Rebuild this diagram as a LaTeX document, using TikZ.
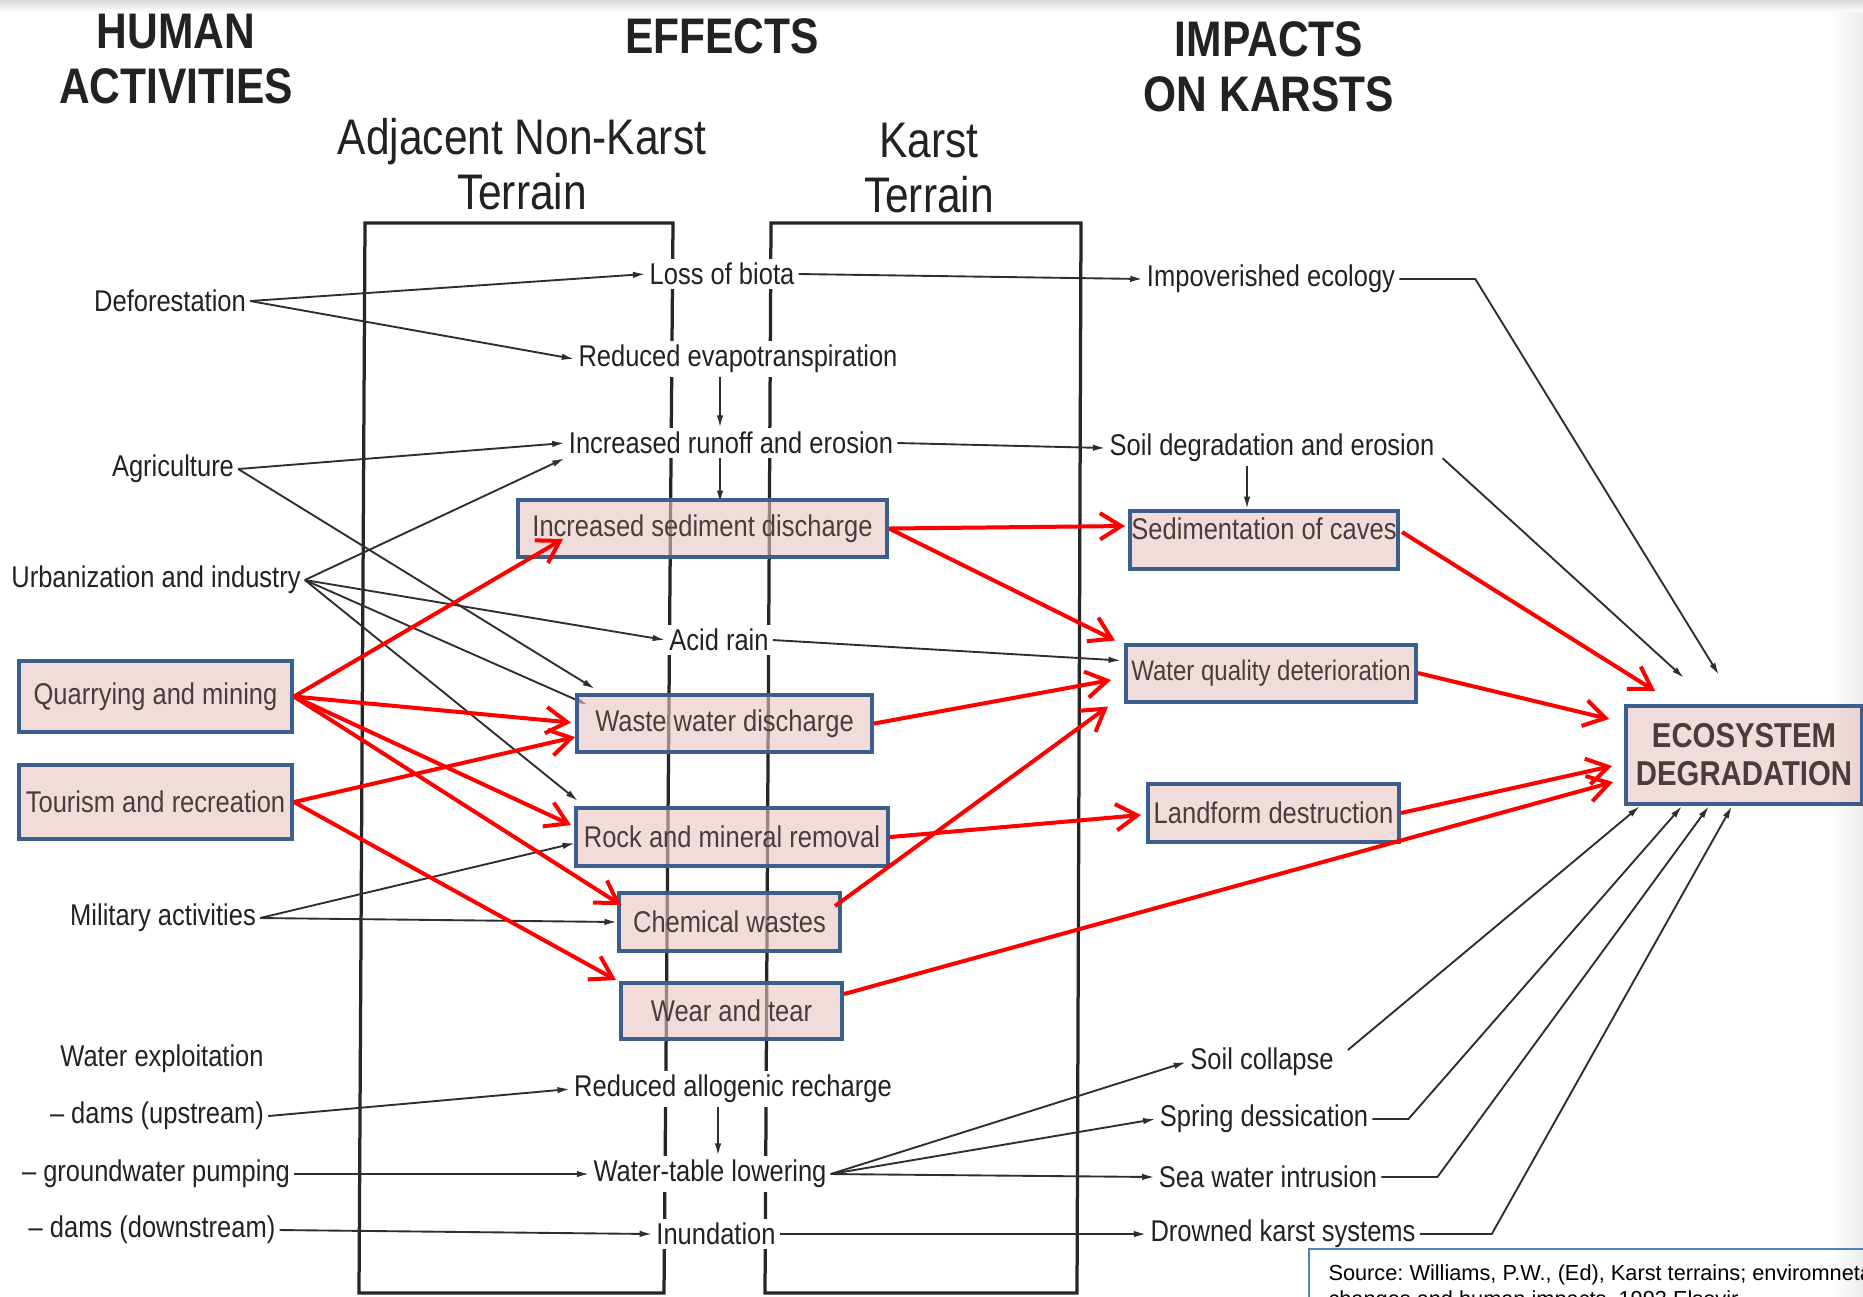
\documentclass[tikz,border=0pt]{standalone}
\usepackage{fontspec}
\setmainfont{Liberation Sans}[FakeStretch=0.85]
\newfontfamily\srcfont{Liberation Sans}
\usetikzlibrary{arrows.meta,calc}
\definecolor{boxpink}{HTML}{E9C5C3}
\definecolor{boxblue}{HTML}{3B5E8C}
\definecolor{srcblue}{HTML}{4F81BD}
\definecolor{ink}{HTML}{222222}
\definecolor{boxink}{HTML}{4A3C3C}
\definecolor{lineink}{HTML}{2E2E2E}
\pgfdeclarelayer{back}
\pgfdeclarelayer{front}
\pgfdeclarelayer{top}
\pgfsetlayers{back,main,front,top}
\begin{document}
\begin{tikzpicture}[x=0.4pt,y=-0.4pt,
  lbl/.style={font=\fontsize{12}{14}\selectfont, text=ink, fill=white, inner sep=1.5pt},
  pbox/.style={draw=boxblue, line width=1.6pt, fill=boxpink, fill opacity=0.6, text opacity=1, text=boxink, font=\fontsize{12}{14}\selectfont, inner sep=0pt},
  bsz/.style 2 args={minimum width=#1*0.4pt, minimum height=#2*0.4pt},
  ttl/.style={font=\bfseries\fontsize{20}{22}\selectfont, align=center, text=ink},
  hdr/.style={font=\fontsize{20}{22}\selectfont, align=center, text=ink},
  blk/.style={draw=lineink, line width=0.75pt, -{Latex[length=5pt,width=2.6pt]}},
  redarr/.style={draw=red, line width=1.6pt, line join=round, -{Straight Barb[length=8.5pt,width=10.5pt]}},
  frame/.style={draw=black!85, line width=1.3pt}
]
\useasboundingbox (0,0) rectangle (1863,1296);
\clip (0,0) rectangle (1863,1296);

% background and frames
\begin{pgfonlayer}{back}
\fill[white] (0,0) rectangle (1863,1296);
\shade[top color=gray!30, bottom color=white] (0,0) rectangle (1863,12);
\shade[left color=white, right color=gray!15] (1830,12) rectangle (1863,1296);
\draw[frame] (359,1293) -- (365,223) -- (673,223) -- (664,1293) -- cycle;
\draw[frame] (765,1293) -- (771,223) -- (1081,223) -- (1077,1293) -- cycle;
\end{pgfonlayer}

% titles
\node[ttl] (thuman) at (176,59) {HUMAN\\ACTIVITIES};
\node[ttl] (teffects) at (722,36) {EFFECTS};
\node[ttl] (timpacts) at (1269,67) {IMPACTS\\ON KARSTS};
\node[hdr] (tadj) at (522,164) {Adjacent Non-Karst\\Terrain};
\node[hdr] (tkarst) at (929,168) {Karst\\Terrain};

% human activities
\node[lbl] (defor) at (170,301) {Deforestation};
\node[lbl] (agri) at (173,469) {Agriculture};
\node[lbl] (urban) at (156,580) {Urbanization and industry};
\node[lbl] (milit) at (163,918) {Military activities};
\node[lbl] (waterx) at (162,1059) {Water exploitation};
\node[lbl] (damsup) at (157,1116) {– dams (upstream)};
\node[lbl] (pump) at (156,1174) {– groundwater pumping};
\node[lbl] (damsdn) at (152,1230) {– dams (downstream)};

% effects
\node[lbl] (loss) at (722,274) {Loss of biota};
\node[lbl] (evap) at (738,359) {Reduced evapotranspiration};
\node[lbl] (runoff) at (731,443) {Increased runoff and erosion};
\node[lbl] (acid) at (719,640) {Acid rain};
\node[lbl] (realloc) at (733,1089) {Reduced allogenic recharge};
\node[lbl] (wtl) at (710,1174) {Water-table lowering};
\node[lbl] (inund) at (716,1234) {Inundation};

% impacts
\node[lbl] (impov) at (1271,279) {Impoverished ecology};
\node[lbl] (soildeg) at (1272,448) {Soil degradation and erosion};
\node[lbl] (soilcol) at (1262,1062) {Soil collapse};
\node[lbl] (spring) at (1264,1119) {Spring dessication};
\node[lbl] (seaw) at (1268,1177) {Sea water intrusion};
\node[lbl] (drown) at (1283,1234) {Drowned karst systems};

% highlighted boxes
\begin{pgfonlayer}{front}
\node[pbox, bsz={273}{71}] (quarry) at (155.5,696.5) {Quarrying and mining};
\node[pbox, bsz={273}{74}] (tourism) at (155.5,802) {Tourism and recreation};
\node[pbox, bsz={369}{57}] (sedim) at (702.5,528.5) {Increased sediment discharge};
\node[pbox, bsz={295}{57}] (waste) at (724.5,723.5) {Waste water discharge};
\node[pbox, bsz={312}{58}] (rock) at (732,837) {Rock and mineral removal};
\node[pbox, bsz={221}{58}] (chem) at (729.5,922) {Chemical wastes};
\node[pbox, bsz={221}{56}] (wear) at (731.5,1011) {Wear and tear};
\node[pbox, bsz={268}{58}, text depth=9pt] (sedcav) at (1264,540) {Sedimentation of caves};
\node[pbox, bsz={290}{57}, font=\fontsize{11.3}{13}\selectfont] (waterq) at (1271,673) {Water quality deterioration};
\node[pbox, bsz={251}{58}] (landf) at (1273.5,813) {Landform destruction};
\node[pbox, bsz={236}{98}, font=\bfseries\fontsize{13.8}{15.2}\selectfont, align=center] (ecosys) at (1744,755) {ECOSYSTEM\\DEGRADATION};
\end{pgfonlayer}

% black connectors
\draw[blk] (defor.east) -- (loss.west);
\draw[blk] (defor.east) -- (evap.west);
\draw[blk] ($(evap.south)+(-18,0)$) -- ($(runoff.north)+(-11,0)$);
\draw[blk] ($(runoff.south)+(-11,0)$) -- ($(sedim.north)+(17.5,5)$);
\draw[blk] (agri.east) -- (runoff.west);
\draw[blk] (agri.east) -- ($(waste.north west)+(20,-4)$);
\draw[blk] (urban.east) -- (runoff.south west);
\draw[blk] (urban.east) -- (acid.west);
\draw[blk] (urban.east) -- ($(waste.north west)+(13,12)$);
\draw[blk] (urban.east) -- ($(rock.north west)+(4,-5)$);
\draw[blk] (milit.east) -- ($(rock.west)+(1,6)$);
\draw[blk] (milit.east) -- (chem.west);
\draw[blk] (acid.east) -- ($(waterq.north west)+(-3,18)$);
\draw[blk] (loss.east) -- (impov.west);
\draw[blk] (runoff.east) -- (soildeg.west);
\draw[blk] ($(soildeg.south)+(-25,0)$) -- ($(sedcav.north)+(-17,0)$);
\draw[blk] (impov.east) -- ++(76,0) -- ($(ecosys.north)+(-25,-29)$);
\draw[blk] ($(soildeg.south east)+(4,-8)$) -- ($(ecosys.north)+(-60,-26)$);
\draw[blk] (damsup.east) -- (realloc.west);
\draw[blk] ($(realloc.south)+(-15,0)$) -- ($(wtl.north)+(8,0)$);
\draw[blk] (pump.east) -- (wtl.west);
\draw[blk] (damsdn.east) -- (inund.west);
\draw[blk] (wtl.east) -- (soilcol.west);
\draw[blk] (wtl.east) -- (spring.west);
\draw[blk] (wtl.east) -- (seaw.west);
\draw[blk] (inund.east) -- (drown.west);
\draw[blk] ($(soilcol.east)+(10,-12)$) -- ($(ecosys.south west)+(16,0)$);
\draw[blk] (spring.east) -- ++(36,0) -- ($(ecosys.south)+(-62,0)$);
\draw[blk] (seaw.east) -- ++(56,0) -- ($(ecosys.south)+(-35,0)$);
\draw[blk] (drown.east) -- ++(72,0) -- ($(ecosys.south)+(-12,0)$);

% red connectors
\begin{pgfonlayer}{top}
\draw[redarr] (quarry.east) -- ($(sedim.south west)+(47,-20)$);
\draw[redarr] (quarry.east) -- ($(waste.west)+(-4,-1)$);
\draw[redarr] (quarry.east) -- ($(rock.north west)+(-3,19)$);
\draw[redarr] (quarry.east) -- ($(chem.north west)+(4,14)$);
\draw[redarr] (tourism.east) -- ($(waste.south west)+(0,-17)$);
\draw[redarr] (tourism.east) -- ($(wear.north west)+(-3,-1)$);
\draw[redarr] (sedim.east) -- ($(sedcav.north west)+(-3,17)$);
\draw[redarr] (sedim.east) -- ($(waterq.north west)+(-9,-2)$);
\draw[redarr] (waste.east) -- ($(waterq.west)+(-13,7)$);
\draw[redarr] ($(chem.north east)+(-7,15)$) -- ($(waterq.south west)+(-16,3)$);
\draw[redarr] (rock.east) -- ($(landf.west)+(-5,2)$);
\draw[redarr] ($(wear.north east)+(0,13)$) -- ($(ecosys.south west)+(-11,-24)$);
\draw[redarr] ($(sedcav.east)+(2,-8)$) -- ($(ecosys.north west)+(31,-13)$);
\draw[redarr] (waterq.east) -- ($(ecosys.north west)+(-15,15)$);
\draw[redarr] (landf.east) -- ($(ecosys.west)+(-12,11)$);
\end{pgfonlayer}

% source box
\node[draw=srcblue, line width=0.8pt, anchor=north west, inner sep=0pt, bsz={700}{120}] (srcbox) at (1308,1248) {};
\node[anchor=north west, align=left, inner sep=0pt, text=black, font=\srcfont\fontsize{8.7}{10.4}\selectfont\frenchspacing] (src) at (1328,1264) {Source: Williams, P.W., (Ed), Karst terrains; enviromnetal\\changes and human impacts. 1993 Elsevir};
\end{tikzpicture}
\end{document}
